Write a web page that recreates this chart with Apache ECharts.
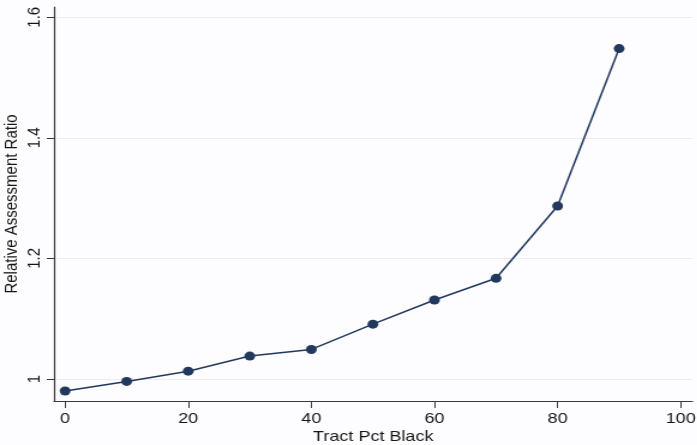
<!DOCTYPE html>
<html>
<head>
<meta charset="utf-8">
<script src="https://cdn.jsdelivr.net/npm/echarts@6/dist/echarts.min.js"></script>
<style>
html,body{margin:0;padding:0;background:#fdfcfe;overflow:hidden;}
#wrap{width:697px;height:445px;overflow:hidden;}
#chart{width:581px;height:445px;transform:scaleX(1.2);transform-origin:0 0;}
</style>
</head>
<body>
<div id="wrap"><div id="chart"></div></div>
<script>
var tractPctBlack = [0, 10, 20, 30, 40, 50, 60, 70, 80, 90];
var relativeAssessmentRatio = [0.980, 0.996, 1.013, 1.038, 1.049, 1.091, 1.131, 1.167, 1.287, 1.548];
var xTicks = [0, 20, 40, 60, 80, 100];
var yTicks = [1, 1.2, 1.4, 1.6];

var chart = echarts.init(document.getElementById('chart'), null, {renderer: 'canvas'});
var font = 'Liberation Sans, Arial, sans-serif';
var axisColor = '#3a3a3a';
var textColor = '#161616';
chart.setOption({
  backgroundColor: '#fdfcfe',
  animation: false,
  grid: {left: 45, right: 4, top: 7, bottom: 44, outerBoundsMode: 'none', containLabel: false},
  xAxis: {
    type: 'value',
    min: -1.8, max: 101.9,
    name: 'Tract Pct Black',
    nameLocation: 'middle',
    nameGap: 28,
    nameMoveOverlap: false,
    nameTextStyle: {fontFamily: font, fontSize: 15, color: textColor},
    axisLine: {show: true, onZero: false, lineStyle: {color: axisColor, width: 1.2}},
    axisTick: {show: true, length: 7, customValues: xTicks, lineStyle: {color: axisColor}},
    axisLabel: {customValues: xTicks, fontFamily: font, fontSize: 15, color: textColor, margin: 10},
    splitLine: {show: false}
  },
  yAxis: {
    type: 'value',
    min: 0.9635, max: 1.617,
    name: 'Relative Assessment Ratio',
    nameLocation: 'middle',
    nameGap: 28,
    nameMoveOverlap: false,
    nameRotate: 90,
    nameTextStyle: {fontFamily: font, fontSize: 15, color: textColor},
    axisLine: {show: true, onZero: false, lineStyle: {color: axisColor, width: 1.2}},
    axisTick: {show: true, length: 6, customValues: yTicks, lineStyle: {color: axisColor}},
    axisLabel: {customValues: yTicks, rotate: 90, fontFamily: font, fontSize: 15, color: textColor, margin: 9,
      formatter: function(v){ return String(Math.round(v*10)/10); }},
    splitLine: {show: false}
  },
  series: [{
    type: 'line',
    data: tractPctBlack.map(function(x, i){ return [x, relativeAssessmentRatio[i]]; }),
    symbol: 'circle',
    symbolSize: 9,
    lineStyle: {color: '#22395e', width: 1.5},
    itemStyle: {color: '#22395e'},
    markLine: {
      silent: true,
      symbol: ['none', 'none'],
      label: {show: false},
      lineStyle: {color: '#ececee', width: 1, type: 'solid'},
      data: yTicks.map(function(v){ return {yAxis: v}; }),
      z: 0
    },
    z: 3
  }]
});
</script>
</body>
</html>
